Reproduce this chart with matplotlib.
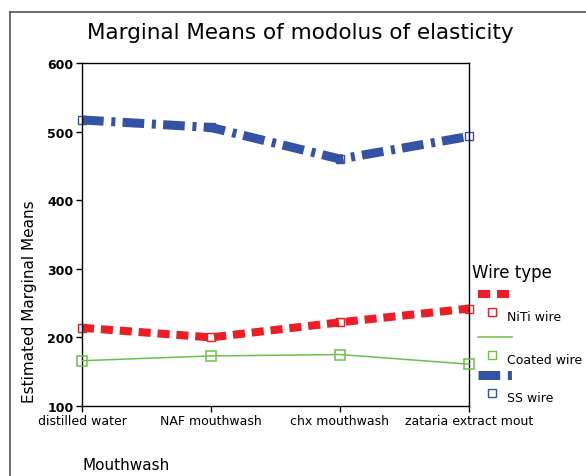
import matplotlib.pyplot as plt
from matplotlib.lines import Line2D

mouthwash = ['distilled water', 'NAF mouthwash', 'chx mouthwash', 'zataria extract mout']
niti = [214, 200, 222, 242]
coated = [166, 173, 175, 161]
ss = [517, 506, 460, 493]

RED = '#ee1c25'
GREEN = '#6cc04a'
BLUE = '#3652a5'
NITI_DASH = (1.5, 0.85)
SS_DASH = (2.4, 0.85, 0.45, 0.8)

fig = plt.figure(figsize=(5.86, 4.77), dpi=100)
ax = fig.add_axes([82 / 586, 1 - 407 / 477, 387 / 586, 343 / 477])

x = list(range(len(mouthwash)))
# hollow square markers sit under the lines, like the SPSS output
ax.plot(x, niti, ls='none', marker='s', ms=6, mfc='white', mec=RED, mew=1,
        zorder=2, clip_on=False)
ax.plot(x, ss, ls='none', marker='s', ms=6, mfc='white', mec=BLUE, mew=1,
        zorder=2, clip_on=False)
ax.plot(x, niti, color=RED, lw=5.8, dashes=NITI_DASH, zorder=3)
ax.plot(x, coated, color=GREEN, lw=1.1, marker='s', ms=7, mfc='none',
        mec=GREEN, mew=1.1, zorder=5, clip_on=False)
ax.plot(x, ss, color=BLUE, lw=6.5, dashes=SS_DASH, zorder=3)

ax.set_xlim(0, 3)
ax.set_ylim(100, 600)
ax.set_yticks([100, 200, 300, 400, 500, 600])
ax.set_xticks(x)
ax.set_xticklabels(mouthwash, fontsize=9)
for lab in ax.get_yticklabels():
    lab.set_fontsize(9)
    lab.set_fontweight('bold')
ax.tick_params(direction='out', length=4, width=1, pad=2)
for sp in ax.spines.values():
    sp.set_linewidth(1)
    sp.set_zorder(4)

fig.text(0.513, 1 - 33 / 477, 'Marginal Means of modolus of elasticity', fontsize=15.5,
         ha='center', va='center')
fig.text(30 / 586, 1 - 302 / 477, 'Estimated Marginal Means', fontsize=11,
         rotation=90, ha='center', va='center')
fig.text(82 / 586, 1 - 466 / 477, 'Mouthwash', fontsize=11, ha='left', va='center')

# outer frame
fig.add_artist(Line2D([10 / 586, 10 / 586], [0, 1 - 13 / 477], color='#555555', lw=1.2))
fig.add_artist(Line2D([10 / 586, 1], [1 - 13 / 477, 1 - 13 / 477], color='#555555', lw=1.2))

# legend drawn SPSS style
fig.text(472 / 586, 1 - 273 / 477, 'Wire type', fontsize=12, ha='left', va='center')
entries = [('NiTi wire', RED, 5.8, NITI_DASH, 295),
           ('Coated wire', GREEN, 1.1, None, 338),
           ('SS wire', BLUE, 6.5, SS_DASH, 376)]
for name, col, lw, dsh, yl in entries:
    ln = Line2D([478 / 586, 512 / 586], [1 - yl / 477, 1 - yl / 477], color=col, lw=lw)
    if dsh:
        ln.set_dashes(dsh)
    fig.add_artist(ln)
    fig.add_artist(Line2D([492 / 586], [1 - (yl + 18) / 477], marker='s', ms=6,
                          mfc='none', mec=col, mew=1, ls='none'))
    fig.text(507 / 586, 1 - (yl + 23) / 477, name, fontsize=9, ha='left', va='center')

fig.savefig('out.png', dpi=100)
